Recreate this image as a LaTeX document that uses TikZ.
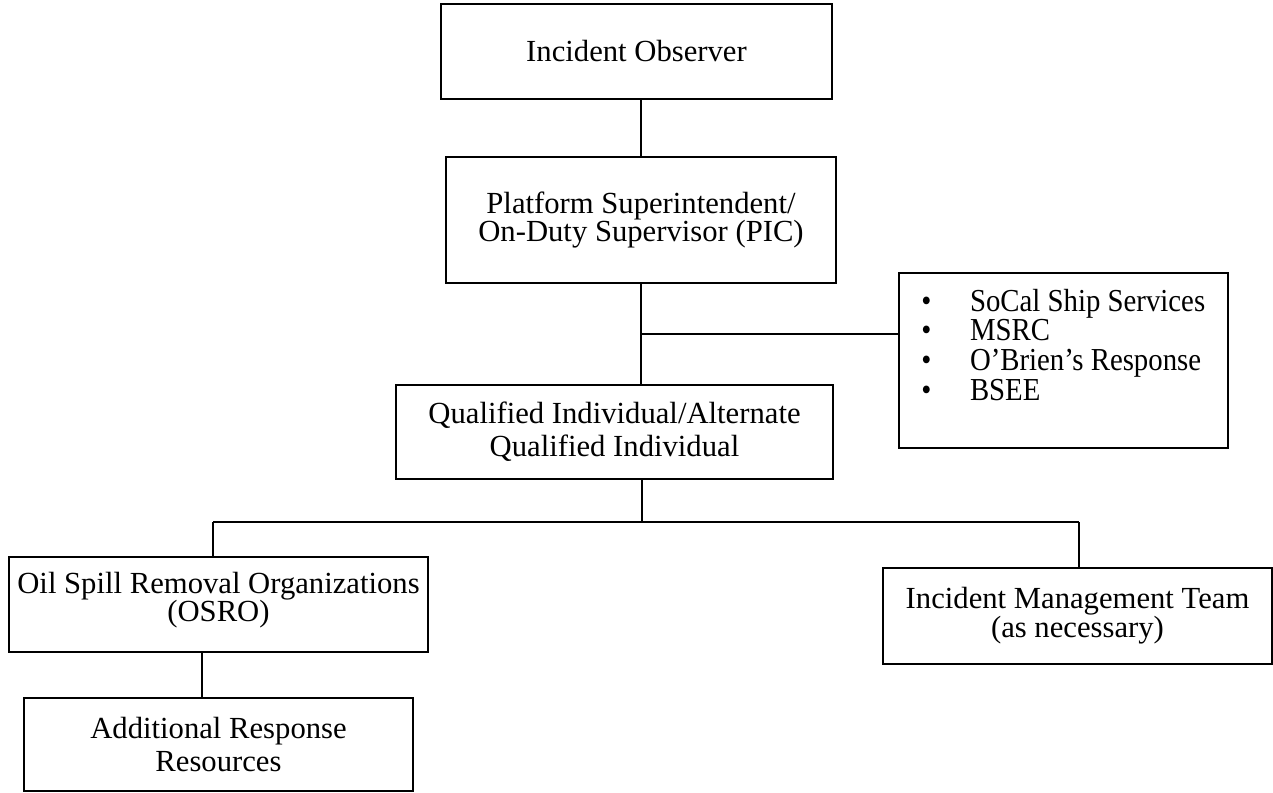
\documentclass[tikz,border=0pt]{standalone}
\usepackage{fontspec}
\setmainfont{Liberation Serif}
\newfontfamily\listfont[FakeStretch=0.9]{Liberation Serif}
\begin{document}
\begin{tikzpicture}[x=0.75pt,y=-0.75pt,
  box/.style={draw, line width=1.5pt, inner sep=0pt, align=center,
    font=\fontsize{23}{21}\selectfont},
  wire/.style={line width=1.1pt}]
\useasboundingbox (0,0) rectangle (1273,792);

% boxes of the notification chain
\node[box, minimum width=293.25pt, minimum height=71.25pt] (obs) at (636.5,51.5) {Incident Observer};
\node[box, minimum width=292.5pt, minimum height=94.5pt] (pic) at (641,220)
  {Platform Superintendent/\\On-Duty Supervisor (PIC)};
\node[box, minimum width=327.75pt, minimum height=70.5pt,
  font=\fontsize{23}{24.75}\selectfont] (qi) at (614.5,432)
  {Qualified Individual/Alternate\\Qualified Individual};
\node[box, minimum width=246.75pt, minimum height=131.25pt] (res) at (1063.5,360.5) {};
\node[anchor=base west, inner sep=0pt, font=\listfont\fontsize{24}{21.2}\selectfont] (reslist) at (921,311)
  {\begin{tabular}[t]{@{}l@{\hspace{29pt}}l@{}}
   • & SoCal Ship Services\\
   • & MSRC\\
   • & O’Brien’s Response\\
   • & BSEE
   \end{tabular}};
% the strut on the last line lifts the two lines a little inside the box
\node[box, minimum width=314.25pt, minimum height=71.25pt] (osro) at (218.5,604.5)
  {Oil Spill Removal Organizations\\(OSRO)\rule[-12pt]{0pt}{0pt}};
\node[box, minimum width=291.75pt, minimum height=72pt,
  font=\fontsize{23}{21.75}\selectfont] (imt) at (1077.5,616)
  {Incident Management Team\\(as necessary)};
\node[box, minimum width=291.75pt, minimum height=69.75pt,
  font=\fontsize{23}{24.75}\selectfont] (arr) at (218.5,744.5)
  {Additional Response\\Resources};

% junction points of the connectors
\coordinate (tap) at (641,334);
\coordinate (bus) at (642,522);
\coordinate (busL) at (213,522);
\coordinate (busR) at (1079,522);
\coordinate (down) at (202,652);

% connectors
\draw[wire] (pic.north) -- (pic.north |- obs.south);
\draw[wire] (pic.south) -- (pic.south |- qi.north);
\draw[wire] (tap) -- (tap -| res.west);
\draw[wire] (qi.south -| bus) -- (bus);
\draw[wire] (busL) -- (busR);
\draw[wire] (busL) -- (busL |- osro.north);
\draw[wire] (busR) -- (busR |- imt.north);
\draw[wire] (osro.south -| down) -- (down |- arr.north);
\end{tikzpicture}
\end{document}
